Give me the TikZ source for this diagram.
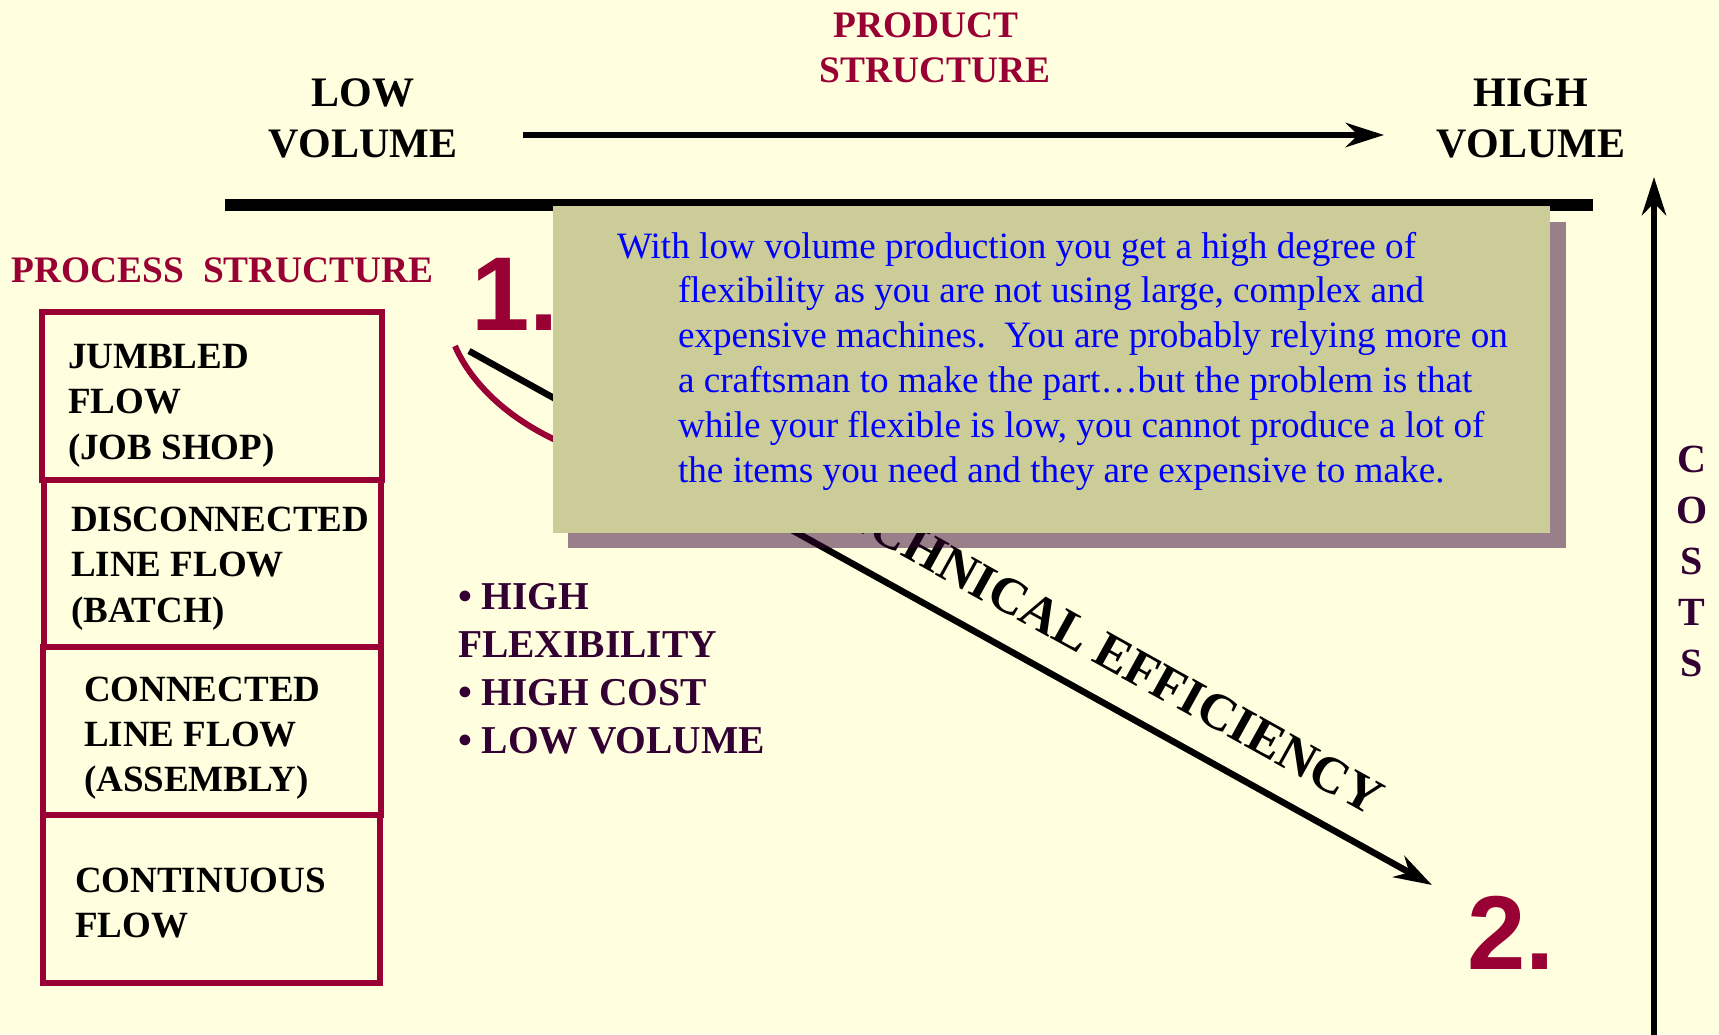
\documentclass[tikz,border=0pt]{standalone}
\usepackage{fontspec}
\setmainfont{Liberation Serif}
\newfontfamily\numfont{Liberation Sans}
\usetikzlibrary{arrows.meta}

\definecolor{bgcream}{RGB}{255,255,224}
\definecolor{wine}{RGB}{153,0,51}
\definecolor{plum}{RGB}{51,0,51}
\definecolor{khaki}{RGB}{204,204,153}
\definecolor{noteblue}{RGB}{0,0,255}

% stacked lines with a fixed baseline distance; the box baseline is the first line
\newcommand\rowsL[2]{\vtop{\baselineskip=#1\lineskiplimit=-1000pt\lineskip=0pt\halign{##\hfil\cr#2\crcr}}}
\newcommand\rowsC[2]{\vtop{\baselineskip=#1\lineskiplimit=-1000pt\lineskip=0pt\halign{\hfil##\hfil\cr#2\crcr}}}

\tikzset{
  txt/.style={inner sep=0pt, outer sep=0pt},
  voltext/.style={txt, font=\fontsize{42}{51}\selectfont\bfseries, text=black},
  captext/.style={txt, font=\fontsize{37.4}{45}\selectfont\bfseries, text=wine},
  flowtext/.style={txt, font=\fontsize{37}{45.5}\selectfont\bfseries, text=black},
  listtext/.style={txt, font=\fontsize{39.5}{48}\selectfont\bfseries, text=plum},
  costtext/.style={txt, font=\fontsize{40}{51}\selectfont\bfseries, text=plum},
  efftext/.style={inner xsep=0pt, inner ysep=30pt, outer sep=0pt,
                  font=\fontsize{51.5}{60}\selectfont\bfseries, text=black},
  bignum/.style={txt, font=\numfont\bfseries\fontsize{105}{110}\selectfont, text=wine},
  notetext/.style={txt, font=\fontsize{37.2}{44.8}\selectfont, text=noteblue},
  flowbox/.style={draw=wine, line width=6pt, inner sep=0pt, outer sep=0pt},
  axisarrow/.style={line width=6.5pt, -{Stealth[length=38pt,width=24pt,inset=12pt]}},
}

\begin{document}
\begin{tikzpicture}[x=1pt, y=-1pt, line cap=butt]
\useasboundingbox (0,0) rectangle (1719,1034);
\fill[bgcream] (0,0) rectangle (1719,1034);

% product structure axis
\node[captext, anchor=base] (prod) at (935,37) {\rowsC{45pt}{PRODUCT\kern18pt\cr STRUCTURE}};
\node[voltext, anchor=base] (low) at (363,106) {\rowsC{51pt}{LOW\cr VOLUME}};
\node[voltext, anchor=base] (high) at (1531,106) {\rowsC{51pt}{HIGH\cr VOLUME}};
\coordinate (vs) at (523,135);
\coordinate (ve) at (1384,135);
\draw[axisarrow] (vs) -- (ve);

\coordinate (barL) at (225,205);
\coordinate (barR) at (1593,205);
\draw[line width=11.5pt] (barL) -- (barR);

% cost axis
\coordinate (cb) at (1654,1045);
\coordinate (ct) at (1654,177);
\draw[axisarrow] (cb) -- (ct);
\node[costtext, anchor=base] (costs) at (1692,472) {\rowsC{51pt}{C\cr O\cr S\cr T\cr S}};

% process structure column
\node[captext, anchor=base west] (proc) at (12,282) {PROCESS\ \ STRUCTURE};
\node[flowbox, minimum width=340pt, minimum height=168pt] (b1) at (212,396) {};
\node[flowbox, minimum width=337pt, minimum height=167pt] (b2) at (212.5,563.5) {};
\node[flowbox, minimum width=338pt, minimum height=168pt] (b3) at (212,731) {};
\node[flowbox, minimum width=337pt, minimum height=168pt] (b4) at (211.5,899) {};
\node[flowtext, anchor=base west] (t1) at (68,368) {\rowsL{45.5pt}{JUMBLED\cr FLOW\cr (JOB SHOP)}};
\node[flowtext, anchor=base west] (t2) at (71,531) {\rowsL{45.5pt}{DISCONNECTED\cr LINE FLOW\cr (BATCH)}};
\node[flowtext, anchor=base west] (t3) at (84,701) {\rowsL{45pt}{CONNECTED\cr LINE FLOW\cr (ASSEMBLY)}};
\node[flowtext, anchor=base west] (t4) at (75,892) {\rowsL{45pt}{CONTINUOUS\cr FLOW}};

% characteristics of point 1
\node[listtext, anchor=base west] (pros) at (458,609)
  {\rowsL{48.3pt}{\textbullet\ HIGH\cr FLEXIBILITY\cr \textbullet\ HIGH COST\cr \textbullet\ LOW VOLUME}};

% points and the efficiency path
\node[bignum, anchor=base west] (one) at (471,330) {1.};
\node[bignum, anchor=base west] (two) at (1467,969) {2.};
\draw[wine, line width=6pt] (455,346) .. controls (472,385) and (510,420) .. (562,443);
\coordinate (ds) at (469,351);
\coordinate (de) at (1432,885);
\draw[line width=6.5pt, -{Stealth[length=38pt,width=24pt,inset=12pt]}] (ds) --
  node[efftext, sloped, above, pos=0.628] (eff) {TECHNICAL EFFICIENCY} (de);

% explanatory note with its shadow
\fill[plum, opacity=0.5] (568,222) rectangle (1566,548);
\node[fill=khaki, inner sep=0pt, outer sep=0pt, minimum width=997pt, minimum height=327pt] (note) at (1051.5,369.5) {};
\node[notetext, anchor=base west] (notetxt) at (617,258) {\rowsL{44.8pt}{%
With low volume production you get a high degree of\cr
\kern61pt flexibility as you are not using large, complex and\cr
\kern61pt expensive machines.\ \ You are probably relying more on\cr
\kern61pt a craftsman to make the part…but the problem is that\cr
\kern61pt while your flexible is low, you cannot produce a lot of\cr
\kern61pt the items you need and they are expensive to make.}};
\end{tikzpicture}
\end{document}
